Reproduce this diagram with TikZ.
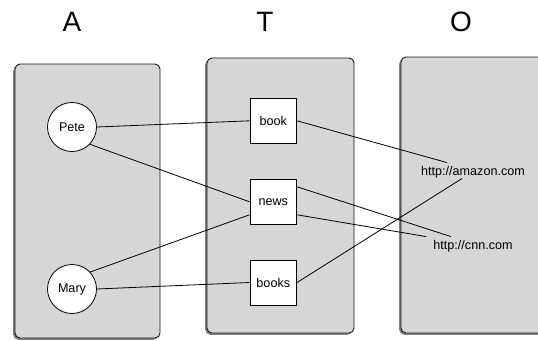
\documentclass[tikz,border=0pt]{standalone}
\usepackage{fontspec}
\setmainfont{Liberation Sans}
\usetikzlibrary{shadows}
\begin{document}
\begin{tikzpicture}[x=1bp,y=1bp,
  panel/.style={draw=black!90, line width=0.9bp, fill=black!16, rounded corners=5bp,
    drop shadow={shadow xshift=-1.8bp, shadow yshift=-1.8bp, opacity=0.5, fill=black}},
  title/.style={font=\fontsize{28bp}{30bp}\selectfont, anchor=base, inner sep=0pt},
  person/.style={circle, draw=black, line width=0.8bp, fill=white, minimum size=49bp, inner sep=0pt,
    font=\fontsize{12.6bp}{15bp}\selectfont},
  tag/.style={rectangle, draw=black, line width=0.8bp, fill=white, minimum width=46.7bp, minimum height=45bp,
    inner sep=0pt, font=\fontsize{12.6bp}{15bp}\selectfont},
  site/.style={font=\fontsize{12.6bp}{15bp}\selectfont, anchor=base, text height=9.5bp, text depth=0bp,
    inner xsep=3bp, inner ysep=3bp},
  link/.style={draw=black, line width=0.8bp}
]
\useasboundingbox (0,0) rectangle (538,340);
% titles
\node[title] (tA) at (72,308.3) {A};
\node[title] (tT) at (265,308.3) {T};
\node[title] (tO) at (461,308.3) {O};
% panels
\path[panel] (15,2) rectangle (160,276);
\path[panel] (207,7) rectangle (354,282);
\path[panel] (401,7) rectangle (552,283);
% nodes
\node[person] (Pete) at (72,213) {Pete};
\node[person] (Mary) at (72,51) {Mary};
\node[tag] (book) at (273.3,219.2) {book};
\node[tag] (news) at (273.3,138.2) {news};
\node[tag] (books) at (273.3,57.5) {books};
\node[site] (amazon) at (473,164.7) {http://amazon.com};
\node[site] (cnn) at (473,90.7) {http://cnn.com};
% links
\draw[link] (Pete.east) -- (book.west);
\draw[link] (Pete.-44) -- (news.west);
\draw[link] (Mary.43) -- ([yshift=-13bp]news.west);
\draw[link] (Mary.east) -- (books.west);
\draw[link] (book.east) -- ([xshift=-26bp]amazon.north);
\draw[link] ([yshift=15bp]news.east) -- ([xshift=-22bp]cnn.north);
\draw[link] ([yshift=-13bp]news.east) -- ([xshift=-4bp]cnn.north west);
\draw[link] (books.east) -- ([xshift=-11bp]amazon.south);
\end{tikzpicture}
\end{document}
